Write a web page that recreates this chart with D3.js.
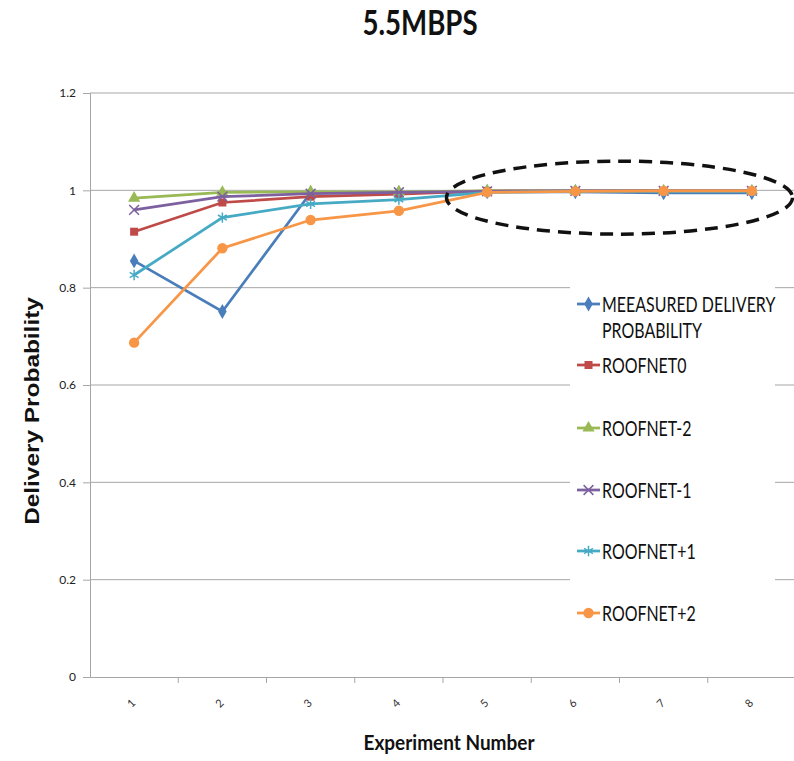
<!DOCTYPE html>
<html>
<head>
<meta charset="utf-8">
<script src="https://cdn.jsdelivr.net/npm/d3@7/dist/d3.min.js"></script>
<style>
  body { margin: 0; background: #fff; }
  svg { display: block; }
</style>
</head>
<body>
<div id="chart"></div>
<script>
let width = 794
let height = 761

// chart data
let experiments = ["1", "2", "3", "4", "5", "6", "7", "8"]
let yTicks = [0, 0.2, 0.4, 0.6, 0.8, 1, 1.2]
let seriesNames = ["MEEASURED DELIVERY PROBABILITY", "ROOFNET0", "ROOFNET-2", "ROOFNET-1", "ROOFNET+1", "ROOFNET+2"]
let measured = [0.855, 0.751, 0.995, 0.995, 0.997, 0.997, 0.995, 0.995]
let roofnet0 = [0.915, 0.975, 0.987, 0.992, 0.999, 0.999, 0.999, 0.999]
let roofnetM2 = [0.984, 0.996, 0.997, 0.997, 0.999, 0.999, 0.999, 0.999]
let roofnetM1 = [0.960, 0.987, 0.993, 0.996, 0.998, 0.999, 0.999, 0.999]
let roofnetP1 = [0.826, 0.944, 0.972, 0.981, 0.996, 0.998, 0.998, 0.998]
let roofnetP2 = [0.687, 0.881, 0.939, 0.958, 0.996, 0.998, 0.999, 0.999]

let colors = ["#4a7ebb", "#be4b48", "#98b954", "#7d60a0", "#46aac5", "#f79646"]
let symbols = [d3.symbolDiamond, d3.symbolSquare, d3.symbolTriangle, d3.symbolTimes, d3.symbolAsterisk, d3.symbolCircle]
let symSize = [64, 64, 64, 64, 74, 84]
let allSeries = [measured, roofnet0, roofnetM2, roofnetM1, roofnetP1, roofnetP2]

let plotLeft = 90, plotRight = 796, plotTop = 93, plotBottom = 677
let font = "Lato, Carlito, sans-serif"
let squeeze = 0.76 // the source text looks horizontally condensed

let svg = d3.select("#chart")
            .append("svg")
            .attr("width", width)
            .attr("height", height)

let xScale = d3.scaleBand().domain(experiments).range([plotLeft, plotRight])
let yScale = d3.scaleLinear().domain([0, 1.2]).range([plotBottom, plotTop])
let cx = d => xScale(d) + xScale.bandwidth() / 2

// gridlines
svg.append("g")
    .selectAll("line")
    .data(yTicks.filter(d => d > 0))
    .enter()
    .append("line")
    .attr("x1", plotLeft).attr("x2", width)
    .attr("y1", d => yScale(d)).attr("y2", d => yScale(d))
    .attr("stroke", "#a6a6a6")
    .attr("stroke-width", 1)

// y axis
let yAxis = d3.axisLeft(yScale).tickValues(yTicks).tickSize(7).tickFormat(d3.format(""))
let gy = svg.append("g")
    .attr("transform", "translate(" + plotLeft + ",0)")
    .call(yAxis)
gy.select(".domain").attr("stroke", "#a6a6a6")
gy.selectAll(".tick line").attr("stroke", "#a6a6a6")
gy.selectAll(".tick text")
    .attr("font-family", font)
    .attr("font-size", 12)
    .attr("fill", "#222")
    .attr("x", -14)

// x axis
let xAxis = d3.axisBottom(xScale).tickSize(0).tickFormat("")
let gx = svg.append("g")
    .attr("transform", "translate(0," + plotBottom + ")")
    .call(xAxis)
gx.select(".domain").attr("stroke", "#a6a6a6")
gx.selectAll(".tick").remove()
svg.append("g")
    .selectAll("line")
    .data(experiments)
    .enter()
    .append("line")
    .attr("x1", d => xScale(d) + xScale.bandwidth()).attr("x2", d => xScale(d) + xScale.bandwidth())
    .attr("y1", plotBottom).attr("y2", plotBottom + 6)
    .attr("stroke", "#a6a6a6")

svg.append("g")
    .selectAll("text")
    .data(experiments)
    .enter()
    .append("text")
    .attr("transform", d => "translate(" + cx(d) + "," + 706 + ") rotate(-45)")
    .attr("text-anchor", "middle")
    .attr("font-family", font)
    .attr("font-size", 11)
    .attr("fill", "#333")
    .text(d => d)

// series lines + markers
let line = d3.line()
    .x((d, i) => cx(experiments[i]))
    .y(d => yScale(d))

allSeries.forEach(function(s, k) {
    svg.append("path")
        .datum(s)
        .attr("d", line)
        .attr("fill", "none")
        .attr("stroke", colors[k])
        .attr("stroke-width", 2.75)
    let strokeSym = (k == 3 || k == 4)
    svg.append("g")
        .selectAll("path")
        .data(s)
        .enter()
        .append("path")
        .attr("transform", (d, i) => "translate(" + cx(experiments[i]) + "," + yScale(d) + ")")
        .attr("d", d3.symbol().type(symbols[k]).size(symSize[k]))
        .attr("fill", strokeSym ? "none" : colors[k])
        .attr("stroke", strokeSym ? colors[k] : "none")
        .attr("stroke-width", 1.5)
})

// dashed ellipse annotation
svg.append("ellipse")
    .attr("cx", (cx("6") + cx("7")) / 2)
    .attr("cy", yScale(0.985))
    .attr("rx", 173)
    .attr("ry", 36.5)
    .attr("fill", "none")
    .attr("stroke", "#111")
    .attr("stroke-width", 3.5)
    .attr("stroke-dasharray", "13,8")

// legend
let legend = svg.append("g")
legend.append("rect")
    .attr("x", 570).attr("y", 285)
    .attr("width", 205).attr("height", 355)
    .attr("fill", "#fff")
let legendY = [304, 365, 428, 490, 551, 613]
seriesNames.forEach(function(name, k) {
    let y = legendY[k]
    legend.append("line")
        .attr("x1", 577).attr("x2", 600)
        .attr("y1", y).attr("y2", y)
        .attr("stroke", colors[k])
        .attr("stroke-width", 2.75)
    let strokeSym = (k == 3 || k == 4)
    legend.append("path")
        .attr("transform", "translate(588.5," + y + ")")
        .attr("d", d3.symbol().type(symbols[k]).size(symSize[k]))
        .attr("fill", strokeSym ? "none" : colors[k])
        .attr("stroke", strokeSym ? colors[k] : "none")
        .attr("stroke-width", 1.5)
    let lines = k == 0 ? ["MEEASURED DELIVERY", "PROBABILITY"] : [name]
    lines.forEach(function(t, j) {
        legend.append("text")
            .attr("transform", "translate(602," + (y + 8 + j * 26) + ") scale(" + squeeze + ",1)")
            .attr("font-family", font)
            .attr("font-size", 21)
            .attr("fill", "#111")
            .text(t)
    })
})

// titles
svg.append("text")
    .attr("transform", "translate(420,35) scale(0.79,1)")
    .attr("text-anchor", "middle")
    .attr("font-family", font)
    .attr("font-weight", "bold")
    .attr("font-size", 35)
    .attr("fill", "#111")
    .text("5.5MBPS")

svg.append("text")
    .attr("transform", "translate(449,750) scale(0.95,1)")
    .attr("text-anchor", "middle")
    .attr("font-family", font)
    .attr("font-weight", "bold")
    .attr("font-size", 20)
    .attr("fill", "#111")
    .text("Experiment Number")

svg.append("text")
    .attr("transform", "translate(39,411) rotate(-90) scale(1.22,1)")
    .attr("text-anchor", "middle")
    .attr("font-family", "Liberation Sans, Arial, sans-serif")
    .attr("font-weight", "bold")
    .attr("font-size", 20)
    .attr("fill", "#111")
    .text("Delivery Probability")
</script>
</body>
</html>
